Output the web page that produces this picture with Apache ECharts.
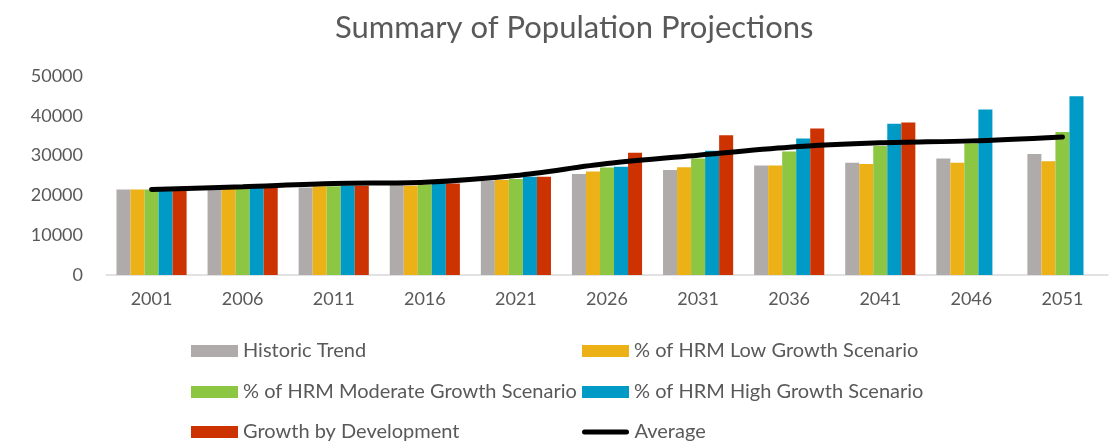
<!DOCTYPE html>
<html>
<head>
<meta charset="utf-8">
<script src="https://cdn.jsdelivr.net/npm/echarts@6/dist/echarts.min.js"></script>
<style>
  html, body { margin: 0; padding: 0; background: #fff; }
  #chart { width: 1113px; height: 444px; }
</style>
</head>
<body>
<div id="chart"></div>
<script>
// years on the x axis
var years = ["2001", "2006", "2011", "2016", "2021", "2026", "2031", "2036", "2041", "2046", "2051"];

// series values
var historic = [21500, 21700, 22000, 23400, 23700, 25400, 26400, 27500, 28200, 29300, 30400];
var lowGrowth = [21500, 21800, 22300, 22400, 23900, 26000, 27100, 27500, 27900, 28200, 28600];
var moderateGrowth = [21500, 21900, 22300, 22700, 24100, 27000, 29300, 31000, 32400, 33100, 35900];
var highGrowth = [21400, 22000, 22400, 23000, 24700, 27200, 31200, 34300, 38000, 41600, 44900];
var development = [21300, 22100, 22400, 23000, 24700, 30700, 35100, 36800, 38300, null, null];
var average = [21500, 22200, 23000, 23300, 25000, 28000, 30100, 32100, 33200, 33700, 34700];

var names = [
  "Historic Trend",
  "% of HRM Low Growth Scenario",
  "% of HRM Moderate Growth Scenario",
  "% of HRM High Growth Scenario",
  "Growth by Development",
  "Average"
];
var colors = ["#AFABAB", "#EDB118", "#8DC642", "#009AC7", "#CC3300", "#000000"];

var textColor = "#595959";
var font = "Lato, 'Open Sans', sans-serif";

var barValues = [historic, lowGrowth, moderateGrowth, highGrowth, development];
var series = barValues.map(function (vals, i) {
  return {
    name: names[i],
    type: "bar",
    data: vals,
    barGap: "0%",
    barCategoryGap: "23%",
    itemStyle: { color: colors[i] }
  };
});
series.push({
  name: names[5],
  type: "line",
  data: average,
  smooth: 0.3,
  symbol: "none",
  z: 10,
  lineStyle: { color: "#000", width: 5, cap: "round" },
  itemStyle: { color: "#000" }
});

// one legend per entry, two columns by three rows
var legendLeft = [191, 582];
var legendTop = [341, 382, 422];
var lineIcon = "path://M2.5,0 L44.5,0 A2.5,2.5 0 0 1 44.5,5 L2.5,5 A2.5,2.5 0 0 1 2.5,0 Z";
var legends = names.map(function (n, i) {
  var isLine = i === 5;
  return {
    data: [{ name: n, icon: isLine ? lineIcon : "rect", itemStyle: { color: colors[i] } }],
    left: legendLeft[i % 2],
    top: legendTop[Math.floor(i / 2)],
    padding: 0,
    itemWidth: isLine ? 48 : 47,
    itemHeight: isLine ? 5 : 12,
    itemGap: 0,
    selectedMode: false,
    textStyle: { color: textColor, fontSize: 20, fontFamily: font }
  };
});

var chart = echarts.init(document.getElementById("chart"));
chart.setOption({
  animation: false,
  title: {
    text: "Summary of Population Projections",
    left: 330,
    top: 7,
    textStyle: { color: textColor, fontSize: 31, fontWeight: "normal", fontFamily: font }
  },
  legend: legends,
  grid: { left: 106, right: 5, top: 76, bottom: 169 },
  xAxis: {
    type: "category",
    data: years,
    axisLine: { lineStyle: { color: "#D9D9D9", width: 1.5 } },
    axisTick: { show: false },
    axisLabel: { color: textColor, fontSize: 18, fontFamily: font, margin: 15 }
  },
  yAxis: {
    type: "value",
    min: 0,
    max: 50000,
    interval: 10000,
    splitLine: { show: false },
    axisLine: { show: false },
    axisTick: { show: false },
    axisLabel: {
      color: textColor, fontSize: 18, fontFamily: font, margin: 23,
      formatter: function (v) { return String(v); }
    }
  },
  series: series
});
</script>
</body>
</html>
